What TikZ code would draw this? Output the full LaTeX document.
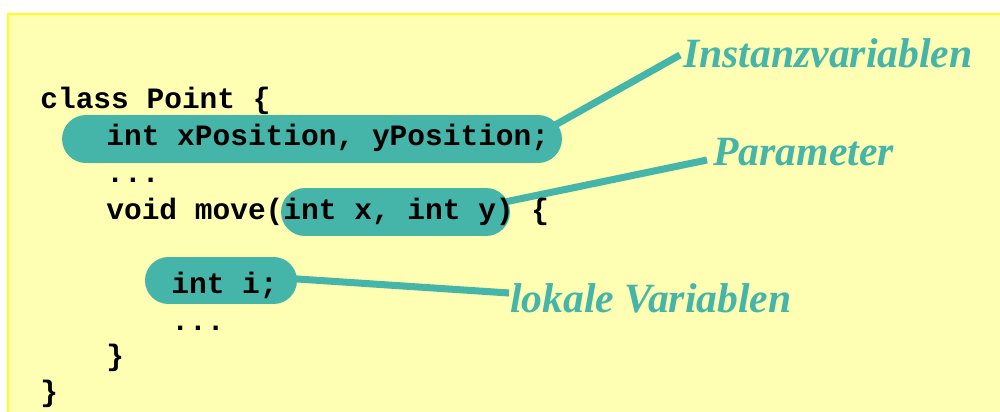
\documentclass[tikz,border=0pt]{standalone}
\usepackage{fontspec}
\setmainfont{Liberation Serif}
\setmonofont{Liberation Mono}
\usetikzlibrary{shapes.misc}
\pgfdeclarelayer{paper}
\pgfdeclarelayer{lines}
\pgfsetlayers{paper,lines,main}
\definecolor{bgyellow}{RGB}{255,255,180}
\definecolor{edgeyellow}{RGB}{255,255,30}
\definecolor{tealc}{RGB}{68,181,168}
\tikzset{
  pill/.style={rounded rectangle, fill=tealc, draw=none, inner sep=0pt},
  code/.style={anchor=base west, inner sep=0pt, font=\fontsize{16.8}{20}\selectfont\ttfamily\bfseries},
  lbl/.style={anchor=base west, inner sep=0pt, text=tealc, font=\fontsize{23.7}{28}\selectfont\bfseries\itshape},
  conn/.style={draw=tealc, line width=4pt},
}
\begin{document}
\begin{tikzpicture}[x=0.02cm, y=-0.02cm]
\useasboundingbox (0,0) rectangle (1000,412);
\begin{pgfonlayer}{paper}
\fill[white] (0,0) rectangle (1000,412);
\fill[bgyellow] (7,13) rectangle (1000,412);
\draw[edgeyellow, line width=1.1pt] (8,412) -- (8,14) -- (1000,14);
\end{pgfonlayer}

% pills
\node[pill, minimum width=10cm, minimum height=0.96cm] (pillA) at (312,139) {};
\node[pill, minimum width=4.58cm, minimum height=0.96cm] (pillB) at (395.5,212) {};
\node[pill, minimum width=3.04cm, minimum height=0.94cm] (pillC) at (221,280.5) {};

% labels
\node[lbl] (labA) at (683,68) {Instanzvariablen};
\node[lbl] (labB) at (713,165) {Parameter};
\node[lbl] (labC) at (510,312) {lokale Variablen};

% connector end points
\coordinate (a1) at (548,129);
\coordinate (a2) at (680,55);
\coordinate (b1) at (500,203);
\coordinate (b2) at (707,160);
\coordinate (c1) at (290,278.5);
\coordinate (c2) at (509,293);

\begin{pgfonlayer}{lines}
\draw[conn] (a1) -- (a2);
\draw[conn] (b1) -- (b2);
\draw[conn] (c1) -- (c2);
\end{pgfonlayer}

% code
\node[code] (l1) at (40,109) {class Point \{};
\node[code] (l2) at (106,145) {int xPosition, yPosition;};
\node[code] (l3) at (106,182) {...};
\node[code] (l4) at (106,219) {void move(int x, int y) \{};
\node[code] (l5) at (171,293) {int i;};
\node[code] (l6) at (171,330) {...};
\node[code] (l7) at (106,365) {\}};
\node[code] (l8) at (40,401) {\}};
\end{tikzpicture}
\end{document}
